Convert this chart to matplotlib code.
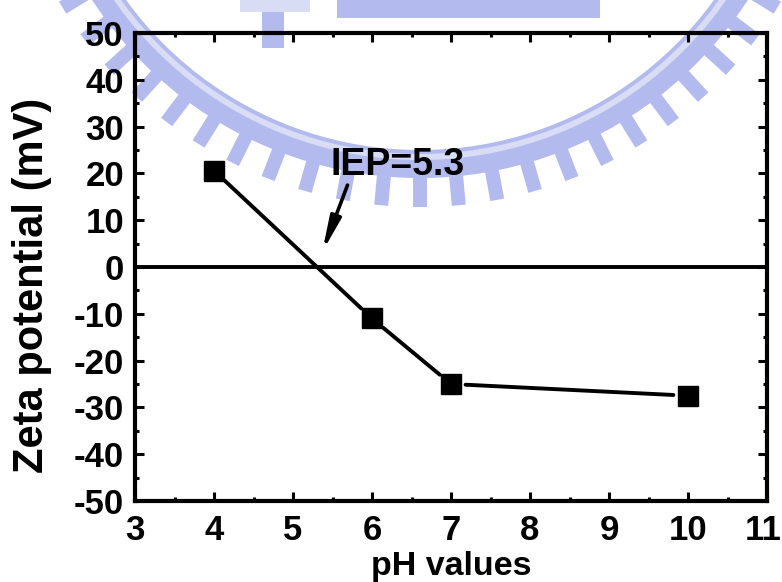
"""Zeta potential vs pH with the isoelectric point marked."""
import numpy as np
import matplotlib
matplotlib.use('Agg')
import matplotlib.pyplot as plt
from matplotlib.patches import Wedge, Polygon, Rectangle
from matplotlib.transforms import ScaledTranslation

plt.rcParams['font.family'] = ['Liberation Sans', 'DejaVu Sans']
plt.rcParams['font.weight'] = 'bold'
plt.rcParams['axes.unicode_minus'] = False

# measured points
ph = [4, 6, 7, 10]
zeta = [20.6, -11.0, -25.0, -27.5]

iep = 5.3
iep_label = 'IEP=5.3'
xticks = [3, 4, 5, 6, 7, 8, 9, 10, 11]
yticks = [-50, -40, -30, -20, -10, 0, 10, 20, 30, 40, 50]

W, H = 782, 582
fig = plt.figure(figsize=(W / 100, H / 100), dpi=100)

# faint logo behind the plot, drawn in pixel space
bg = fig.add_axes([0, 0, 1, 1], zorder=-1)
bg.set_xlim(0, W)
bg.set_ylim(H, 0)
bg.axis('off')
logo = '#b2baee'
logo_light = '#d8dcf5'
cx, cy = 420, -213
r_in, r_out, r_tip = 363, 391, 420
bg.add_patch(Wedge((cx, cy), r_out, 15, 165, width=r_out - r_in,
                   facecolor=logo, edgecolor='none'))
bg.add_patch(Wedge((cx, cy), r_in + 10, 15, 165, width=6,
                   facecolor=logo_light, edgecolor='none'))
for k in range(-12, 13):
    phi = np.radians(90 + k * 5.3)
    u = np.array([np.cos(phi), np.sin(phi)])
    v = np.array([-np.sin(phi), np.cos(phi)])
    c = np.array([cx, cy])
    pts = [c + (r_out - 2) * u - 7 * v, c + r_tip * u - 7 * v,
           c + r_tip * u + 7 * v, c + (r_out - 2) * u + 7 * v]
    bg.add_patch(Polygon(pts, closed=True, facecolor=logo, edgecolor='none'))
bg.add_patch(Rectangle((337, 0), 263, 18, facecolor=logo, edgecolor='none'))
bg.add_patch(Rectangle((240, 0), 70, 12, facecolor=logo_light, edgecolor='none'))
bg.add_patch(Rectangle((262, 12), 22, 36, facecolor=logo, edgecolor='none'))

ax = fig.add_axes([135 / W, 1 - 501 / H, 632 / W, 468 / H])
ax.set_facecolor('none')

ax.axhline(0, color='black', lw=2.8, zorder=2)

# segments stop short of the symbols
for i in range(len(ph) - 1):
    ax.annotate('', xy=(ph[i + 1], zeta[i + 1]), xytext=(ph[i], zeta[i]),
                arrowprops=dict(arrowstyle='-', color='black', lw=2.8,
                                shrinkA=10.5, shrinkB=10.5), zorder=3)
ax.plot(ph, zeta, ls='none', marker='s', ms=14.4, color='black', zorder=4)

ax.text(6.33, 19.7, iep_label, fontsize=27, fontweight='bold',
        ha='center', va='baseline')
ax.annotate('', xy=(iep + 0.07, 3.2), xytext=(5.69, 17.5),
            arrowprops=dict(arrowstyle='-|>,head_length=2.0,head_width=0.32',
                            mutation_scale=10, color='black', lw=2.6,
                            shrinkA=0, shrinkB=0))

ax.set_xlim(3, 11)
ax.set_ylim(-50, 50)
ax.set_xticks(xticks)
ax.set_yticks(yticks)
ax.set_xticks(np.arange(3.5, 11, 1), minor=True)
ax.set_yticks(np.arange(-45, 50, 10), minor=True)
ax.tick_params(which='both', direction='in', top=True, right=True, width=2.2)
ax.tick_params(which='major', length=6.5, labelsize=25, pad=8)
ax.tick_params(which='minor', length=3.2)
ax.tick_params(axis='x', pad=9)
for s in ax.spines.values():
    s.set_linewidth(3)

# keep the last x label inside the canvas
last = ax.get_xticklabels()[-1]
last.set_transform(last.get_transform()
                   + ScaledTranslation(-4 / 100, 0, fig.dpi_scale_trans))

ax.set_xlabel('pH values', fontsize=24.5, fontweight='bold', va='baseline')
ax.xaxis.set_label_coords(0.5, -0.158)
ax.set_ylabel('Zeta potential (mV)', fontsize=30, fontweight='bold', va='center')
ax.yaxis.set_label_coords(-0.163, 0.46)

fig.savefig('out.png', dpi=100)
